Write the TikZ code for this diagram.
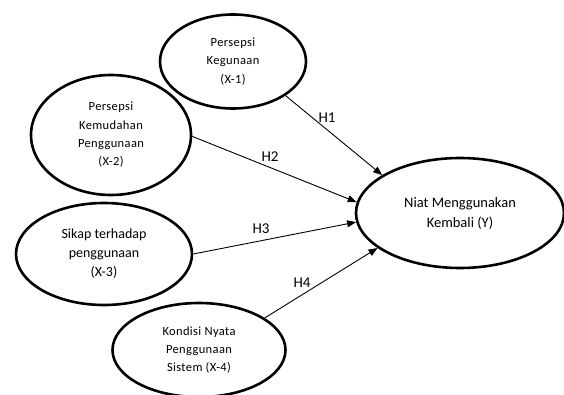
\documentclass[tikz,border=0pt]{standalone}
\usepackage{fontspec}
\setmainfont{Carlito}
\usetikzlibrary{shapes.geometric,arrows.meta}
\tikzset{
  construct/.style={ellipse,draw=black,line width=2.6pt,inner sep=0pt,align=center},
  xtext/.style={font=\fontsize{12.5}{18.3}\selectfont\addfontfeature{LetterSpace=3}},
  ytext/.style={font=\fontsize{14.5}{20}\selectfont},
  path/.style={draw=black,line width=0.9pt,-{Triangle[length=9pt,width=7pt]}},
  hlabel/.style={font=\fontsize{15}{16}\selectfont,inner sep=0pt}
}
\begin{document}
\begin{tikzpicture}[x=1pt,y=1pt]
\useasboundingbox (0,0) rectangle (564,394);
\node[construct,xtext,minimum width=146pt,minimum height=94pt] (x1) at (233,332.5) {Persepsi\\Kegunaan\\(X-1)};
\node[construct,xtext,minimum width=160pt,minimum height=120pt] (x2) at (111,259) {Persepsi\\Kemudahan\\Penggunaan\\(X-2)};
\node[construct,minimum width=176pt,minimum height=102pt,font=\fontsize{14}{19}\selectfont] (x3) at (104,140) {Sikap terhadap\\penggunaan\\(X-3)};
\node[construct,xtext,minimum width=173pt,minimum height=94pt] (x4) at (199,44) {Kondisi Nyata\\Penggunaan\\Sistem (X-4)};
\node[construct,ytext,minimum width=208pt,minimum height=110pt] (y) at (460,181) {Niat Menggunakan\\Kembali (Y)};
\draw[path] (x1.-33.8) -- (y.154.9);
\draw[path] (x2.-1.4) -- (y.174);
\draw[path] (x3.0.6) -- (y.185);
\draw[path] (x4.26.9) -- (y.203.3);
\node[hlabel] (h1) at (327,276) {H1};
\node[hlabel] (h2) at (270,237) {H2};
\node[hlabel] (h3) at (261,165) {H3};
\node[hlabel] (h4) at (302,111) {H4};
\end{tikzpicture}
\end{document}
